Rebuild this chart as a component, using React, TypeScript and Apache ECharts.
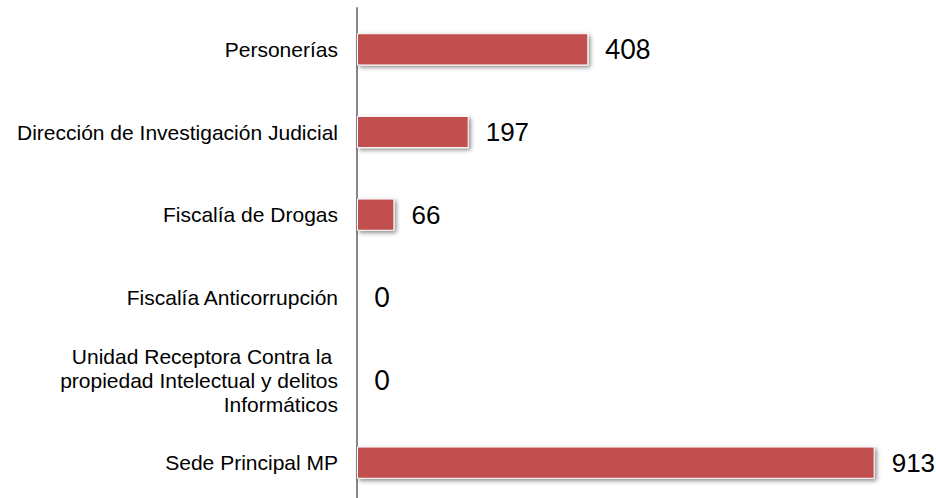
import React, { useEffect, useRef } from "react";
import * as echarts from "echarts";

const categories = [
  "Personerías",
  "Dirección de Investigación Judicial",
  "Fiscalía de Drogas",
  "Fiscalía Anticorrupción",
  "Unidad Receptora Contra la \npropiedad Intelectual y delitos\nInformáticos",
  "Sede Principal MP",
];
const values = [408, 197, 66, 0, 0, 913];
const labelFonts = ["Lato", "Liberation Sans", "Liberation Sans", "Lato", "Lato", "Liberation Sans"];
const labelSizes = [26, 26, 26, 26, 26, 26];

export default function App() {
  const ref = useRef<HTMLDivElement>(null);
  useEffect(() => {
    document.body.style.margin = "0";
    const chart = echarts.init(ref.current!, null, { renderer: "svg" });
    chart.setOption({
      animation: false,
      grid: { left: 357, right: 12, top: 8, bottom: 2, containLabel: false, outerBoundsMode: "none" },
      xAxis: {
        type: "value",
        min: 0,
        max: 1000,
        show: false,
        splitLine: { show: false },
      },
      yAxis: {
        type: "category",
        data: categories,
        inverse: true,
        axisLine: { show: true, lineStyle: { color: "#878787", width: 2 } },
        axisTick: { show: false },
        axisLabel: {
          color: "#000",
          fontFamily: "Liberation Sans",
          fontSize: 21,
          margin: 19,
          align: "right",
          lineHeight: 24,
        },
      },
      series: [
        {
          type: "bar",
          barWidth: "39%",
          data: values.map((v, i) => ({
            value: v,
            label: { fontFamily: labelFonts[i], fontSize: labelSizes[i] },
          })),
          itemStyle: {
            color: "#C0504D",
            borderColor: "#ffffff",
            borderWidth: 1,
            shadowColor: "rgba(0,0,0,0.45)",
            shadowBlur: 4,
            shadowOffsetX: 2,
            shadowOffsetY: 2,
          },
          label: {
            show: true,
            position: "right",
            distance: 17,
            color: "#000",
          },
        },
      ],
    });
    return () => chart.dispose();
  }, []);
  return (
    <div style={{ width: 936, height: 498, overflow: "hidden" }}>
      <div ref={ref} style={{ width: 936, height: 506 }} />
    </div>
  );
}
